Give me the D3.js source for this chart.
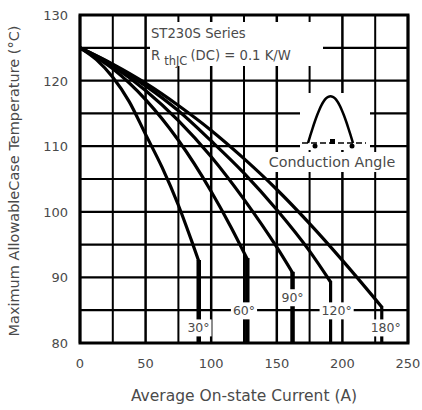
<!DOCTYPE html>
<html>
<head>
<meta charset="utf-8">
<script src="https://cdn.jsdelivr.net/npm/d3@7"></script>
<style>
  html, body { margin: 0; padding: 0; background: #fff; }
  svg { display: block; }
  text { font-family: "DejaVu Sans", sans-serif; }
</style>
</head>
<body>
<svg id="chart" width="422" height="410"></svg>
<script>
// ---- data ----
const angleLabels = ["30°", "60°", "90°", "120°", "180°"];
const current30  = [0, 12.5, 25, 37.5, 50, 62.5, 75, 85, 90.5];
const temp30     = [125, 123.2, 120.5, 116.8, 111.8, 106.8, 101.0, 95.6, 92.5];
const current60  = [0, 25, 50, 75, 100, 115, 127.5];
const temp60     = [125, 121.8, 117.1, 110.9, 103.1, 97.7, 92.8];
const current90  = [0, 25, 50, 75, 100, 125, 150, 162];
const temp90     = [125, 122.2, 118.5, 113.9, 108.4, 101.9, 94.6, 90.7];
const current120 = [0, 25, 50, 75, 100, 125, 150, 175, 191];
const temp120    = [125, 122.4, 119.2, 115.4, 110.8, 105.9, 100.3, 94.0, 89.3];
const current180 = [0, 25, 50, 75, 100, 125, 150, 175, 200, 230];
const temp180    = [125, 122.5, 119.6, 116.2, 112.4, 108.1, 103.4, 98.2, 92.6, 85.5];
// label anchors (current A, temperature °C)
const labelCurrent = [90.3, 125, 162, 195.6, 233];
const labelTemp    = [82.3, 84.9, 86.9, 84.9, 82.3];

const xTicks = [0, 50, 100, 150, 200, 250];
const yTicks = [80, 90, 100, 110, 120, 130];
const xGrid = d3.range(0, 251, 25);
const yGrid = d3.range(80, 131, 5);

const seriesCurrents = [current30, current60, current90, current120, current180];
const seriesTemps = [temp30, temp60, temp90, temp120, temp180];

// ---- layout ----
const svg = d3.select("#chart");
const L = 80, R = 408, T = 15, B = 343;
const x = d3.scaleLinear().domain([0, 250]).range([L, R]);
const y = d3.scaleLinear().domain([80, 130]).range([B, T]);
const txt = "#4a4a4a";

const gridG = svg.append("g");
gridG.selectAll("line.v").data(xGrid).join("line")
  .attr("x1", d => x(d)).attr("x2", d => x(d))
  .attr("y1", T).attr("y2", B)
  .attr("stroke", "#000").attr("stroke-width", d => d % 50 === 0 ? 2.5 : 2);
gridG.selectAll("line.h").data(yGrid).join("line")
  .attr("x1", L).attr("x2", R)
  .attr("y1", d => y(d)).attr("y2", d => y(d))
  .attr("stroke", "#000").attr("stroke-width", 2.2);

// white masks for annotation areas
svg.append("rect").attr("x", 150).attr("y", 22).attr("width", 173).attr("height", 44).attr("fill", "#fff");
svg.append("rect").attr("x", 300).attr("y", 93).attr("width", 70).attr("height", 57).attr("fill", "#fff");
svg.append("rect").attr("x", 264).attr("y", 152).attr("width", 136).attr("height", 20).attr("fill", "#fff");

// curves
const line = d3.line().x(d => x(d[0])).y(d => y(d[1])).curve(d3.curveMonotoneX);
const curveG = svg.append("g");
seriesCurrents.forEach((cs, i) => {
  const pts = cs.map((c, j) => [c, seriesTemps[i][j]]);
  curveG.append("path").attr("d", line(pts))
    .attr("fill", "none").attr("stroke", "#000").attr("stroke-width", 3.2)
    .attr("stroke-linejoin", "round");
  const last = pts[pts.length - 1];
  curveG.append("line")
    .attr("x1", x(last[0])).attr("x2", x(last[0]))
    .attr("y1", y(last[1]) - 1).attr("y2", y(80))
    .attr("stroke", "#000").attr("stroke-width", i < 3 ? 4.5 : 3.2);
});

// frame
svg.append("rect").attr("x", L).attr("y", T).attr("width", R - L).attr("height", B - T)
  .attr("fill", "none").attr("stroke", "#000").attr("stroke-width", 3);

// angle labels with white boxes
angleLabels.forEach((lab, i) => {
  const g = svg.append("g");
  const t = g.append("text").attr("x", x(labelCurrent[i])).attr("y", y(labelTemp[i]))
    .attr("text-anchor", "middle").attr("dominant-baseline", "central")
    .attr("font-size", 12.5).attr("fill", txt).text(lab);
  const bb = t.node().getBBox();
  g.insert("rect", "text").attr("x", bb.x - 2).attr("y", bb.y - 1)
    .attr("width", bb.width + 4).attr("height", bb.height + 2).attr("fill", "#fff");
});

// legend text
svg.append("text").attr("x", 151).attr("y", 38).attr("font-size", 13.2).attr("fill", txt).text("ST230S Series");
const rt = svg.append("text").attr("x", 151).attr("y", 60).attr("font-size", 13.2).attr("fill", txt);
rt.append("tspan").text("R");
rt.append("tspan").attr("dx", 4).attr("dy", 5).attr("font-size", 11.5).text("thJC");
rt.append("tspan").attr("dx", 3).attr("dy", -5).text("(DC) = 0.1 K/W");

// conduction angle icon
const icon = svg.append("g");
const baseY = 143, x0i = 308, x1i = 353, peakY = 96;
const pulse = d3.range(0, 1.0001, 0.05).map(t => [x0i + t * (x1i - x0i), baseY - (baseY - peakY) * Math.sin(Math.PI * t)]);
icon.append("line").attr("x1", 302).attr("x2", 366).attr("y1", baseY).attr("y2", baseY)
  .attr("stroke", "#000").attr("stroke-width", 1.5).attr("stroke-dasharray", "6,3");
icon.append("path").attr("d", d3.line().curve(d3.curveBasis)(pulse))
  .attr("fill", "none").attr("stroke", "#000").attr("stroke-width", 2.5);
icon.append("circle").attr("cx", 315).attr("cy", 146).attr("r", 2.5).attr("fill", "#000");
icon.append("circle").attr("cx", 352).attr("cy", 146).attr("r", 2.5).attr("fill", "#000");
icon.append("rect").attr("x", 330).attr("y", 139).attr("width", 5).attr("height", 5).attr("fill", "#000");
svg.append("text").attr("x", 332).attr("y", 167).attr("text-anchor", "middle")
  .attr("font-size", 14.3).attr("fill", txt).text("Conduction Angle");

// tick labels
svg.append("g").selectAll("text").data(xTicks).join("text")
  .attr("x", d => x(d)).attr("y", 368).attr("text-anchor", "middle")
  .attr("font-size", 13).attr("fill", txt).text(d => d);
svg.append("g").selectAll("text").data(yTicks).join("text")
  .attr("x", 68).attr("y", d => y(d) + 5).attr("text-anchor", "end")
  .attr("font-size", 13).attr("fill", txt).text(d => d);

// axis titles
svg.append("text").attr("x", (L + R) / 2).attr("y", 401).attr("text-anchor", "middle")
  .attr("font-size", 15.5).attr("fill", txt).text("Average On-state Current (A)");
svg.append("text").attr("transform", `translate(19,${(T + B) / 2 + 2}) rotate(-90)`)
  .attr("text-anchor", "middle").attr("font-size", 14.5).attr("fill", txt)
  .text("Maximum AllowableCase Temperature (°C)");
</script>
</body>
</html>
